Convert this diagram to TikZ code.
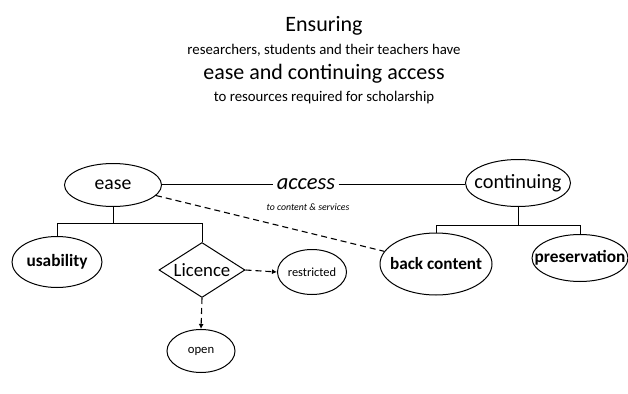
\documentclass[tikz,border=0pt]{standalone}
\usepackage{fontspec}
\setmainfont{Carlito}
\usetikzlibrary{shapes.geometric,arrows.meta}

\begin{document}
\begin{tikzpicture}[x=1pt, y=-1pt,
    oval/.style={draw, ellipse, line width=1pt, inner xsep=-13pt, inner ysep=0pt},
    link/.style={line width=1pt},
    dlink/.style={line width=1.1pt, dash pattern=on 6pt off 4pt},
    darrow/.style={dlink, -{Latex[length=5pt,width=5pt]}}]
    \useasboundingbox (0,0) rectangle (628,393);

    % heading
    \node (t1) at (324,26) {\fontsize{22}{26}\selectfont Ensuring};
    \node (t2) at (324,50) {\fontsize{14.8}{17}\selectfont researchers, students and their teachers have};
    \node (t3) at (324,74) {\fontsize{22}{26}\selectfont ease and continuing access};
    \node (t4) at (324,98) {\fontsize{14.8}{17}\selectfont to resources required for scholarship};

    % top row
    \node[oval, minimum width=97pt, minimum height=43pt] (ease) at (113,185)
        {\fontsize{19.7}{23}\selectfont ease};
    \node (access) at (306,184) {\fontsize{22.5}{26}\selectfont\itshape access};
    \node[inner sep=0pt] (sub) at (308,207) {\fontsize{9.8}{11}\selectfont\itshape to content \& services};
    \node[oval, minimum width=105pt, minimum height=47pt] (cont) at (518,183)
        {\fontsize{20.3}{24}\selectfont continuing};

    % ease side
    \node[oval, minimum width=90pt, minimum height=51pt] (usab) at (57,262)
        {\fontsize{17.3}{20}\selectfont\bfseries usability};
    \node[draw, diamond, aspect=1.6, line width=1pt, inner sep=0pt,
        minimum width=86pt, minimum height=55pt] (lic) at (202,270)
        {\fontsize{18.8}{22}\selectfont Licence};
    \node[oval, minimum width=69pt, minimum height=45pt] (restr) at (312,272)
        {\fontsize{12.4}{15}\selectfont restricted};
    \node[oval, minimum width=68pt, minimum height=43pt] (open) at (201,351)
        {\fontsize{12.7}{15}\selectfont open};

    % continuing side
    \node[oval, minimum width=112pt, minimum height=62pt] (back) at (436,264)
        {\fontsize{17.2}{20}\selectfont\bfseries back content};
    \node[oval, minimum width=96pt, minimum height=47pt] (pres) at (580,258)
        {\fontsize{17.3}{20}\selectfont\bfseries preservation};

    \draw[link] (ease.east |- access.west) -- (access.west);
    \draw[link] (access.east) -- (access.east -| cont.west);

    \draw[link] (ease.south) -- ++(0,16) coordinate (ej);
    \draw[link] (ej) -| (usab.north);
    \draw[link] (ej) -| (lic.north);

    \draw[link] (cont.south) -- ++(0,18) coordinate (cj);
    \draw[link] (cj) -| (back.north);
    \draw[link] (cj) -| (pres.north);

    \draw[dlink] (ease) -- (back);
    \draw[darrow] (lic.east) -- (restr.west);
    \draw[darrow] (lic.south) -- (open.north);
\end{tikzpicture}
\end{document}
